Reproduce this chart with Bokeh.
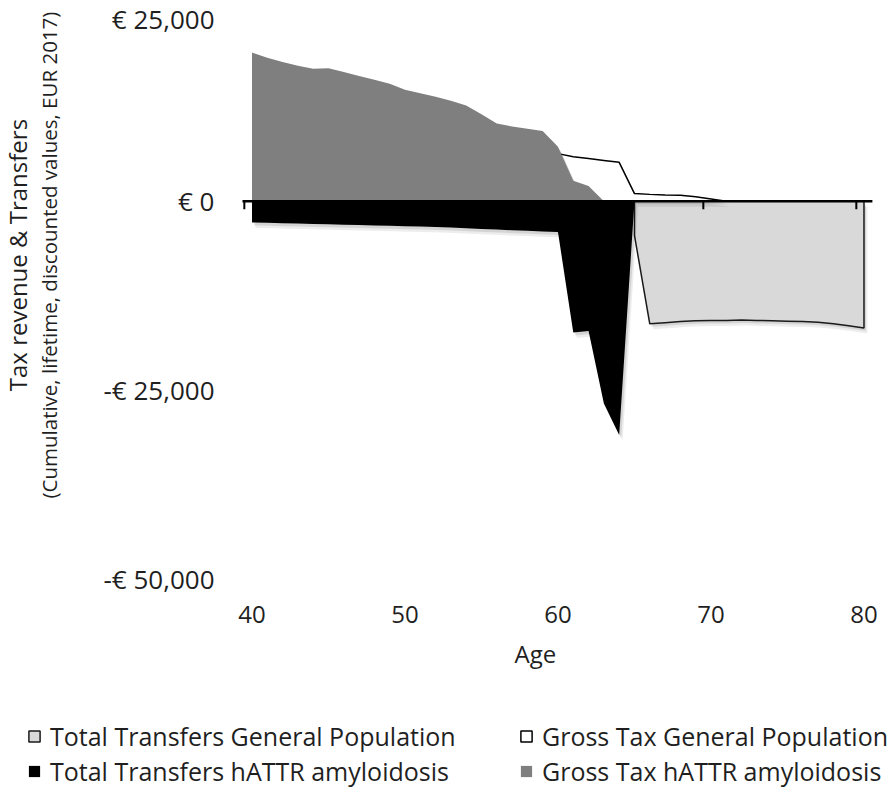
import math
from bokeh.plotting import figure
from bokeh.layouts import row, column
from bokeh.models import FixedTicker, Legend, LegendItem, LinearAxis, Title
from bokeh.core.properties import value
from bokeh.embed import file_html
from bokeh.resources import INLINE

# ---------------- data ----------------
ages_tax_hattr = list(range(40, 64))
gross_tax_hattr = [19700, 19000, 18450, 17950, 17550, 17600, 17100, 16600, 16100, 15550,
                   14750, 14300, 13850, 13300, 12680, 11530, 10300, 9900, 9600, 9300,
                   7200, 2700, 2000, 0]

ages_tr_hattr = list(range(40, 66))
transfers_hattr = [-2820, -2870, -2920, -2970, -3020, -3070, -3120, -3170, -3220, -3270,
                   -3320, -3370, -3430, -3500, -3590, -3680, -3760, -3850, -3930, -4020,
                   -4100, -17400, -17200, -26800, -31000, 0]

ages_tax_gp = list(range(60, 81))
gross_tax_gp = [6300, 5900, 5650, 5400, 5150, 1000, 900, 830, 770, 600,
                300, 0, 0, 0, 0, 0, 0, 0, 0, 0, 0]

ages_tr_gp = list(range(65, 81))
transfers_gp = [-4540, -16250, -16100, -15950, -15850, -15800, -15800, -15750,
                -15800, -15850, -15900, -15950, -16050, -16250, -16500, -16800]

series_labels = ["Total Transfers General Population", "Gross Tax General Population",
                 "Total Transfers hATTR amyloidosis", "Gross Tax hATTR amyloidosis"]
x_ticks = [40, 50, 60, 70, 80]
y_ticks = [-50000, -25000, 0, 25000]
y_tick_labels = ["-€ 50,000", "-€ 25,000", "€ 0", "€ 25,000"]
y_title_lines = ["Tax revenue & Transfers",
                 "(Cumulative, lifetime, discounted values, EUR 2017)"]
x_title = "Age"

FONT = "Open Sans"
FS = "24px"
TXT = "#1f1f1f"
C_TR_GP, C_TAX_GP, C_TR_H, C_TAX_H = "#d9d9d9", "#ffffff", "#000000", "#7f7f7f"

W, H = 896, 789
TOP_H = 700      # height of the chart row
LEFT_W = 76      # strip holding the rotated y title
FRAME_L, FRAME_T, FRAME_W, FRAME_H = 240, 12, 640, 566
X_RANGE = (39.25, 81.08)
Y_RANGE = (-50000, 25000)

# ---------------- main chart ----------------
p = figure(frame_width=FRAME_W, frame_height=FRAME_H,
           x_range=X_RANGE, y_range=Y_RANGE,
           output_backend="svg", toolbar_location=None,
           min_border_left=FRAME_L - LEFT_W, min_border_right=W - FRAME_L - FRAME_W,
           min_border_top=FRAME_T, min_border_bottom=TOP_H - FRAME_T - FRAME_H,
           x_axis_type=None, y_axis_type=None)
p.grid.visible = False
p.outline_line_color = None

# soft drop shadow offsets (in pixels -> data units)
px_x = (X_RANGE[1] - X_RANGE[0]) / FRAME_W
px_y = (Y_RANGE[1] - Y_RANGE[0]) / FRAME_H
SHADOWS = [(2 * px_x, -3 * px_y, 0.10), (3.5 * px_x, -5.5 * px_y, 0.07)]


def closed(xs, ys):
    return xs + xs[::-1], ys + [0] * len(xs)


def shadow(xs, ys):
    cx, cy = closed(xs, ys)
    for dx, dy, a in SHADOWS:
        p.patch([v + dx for v in cx], [v + dy for v in cy],
                fill_color="black", fill_alpha=a, line_color=None)


# series drawn in the original order, each with its shadow
shadow(ages_tr_gp, transfers_gp)
tx, ty = closed(ages_tr_gp, transfers_gp)
r_tr_gp = p.patch(tx, ty, fill_color=C_TR_GP, line_color="#1a1a1a", line_width=1.5)

shadow(ages_tax_gp, gross_tax_gp)
gx, gy = closed(ages_tax_gp, gross_tax_gp)
r_tax_gp = p.patch(gx, gy, fill_color=C_TAX_GP, line_color="#000000", line_width=1.5)

shadow(ages_tr_hattr, transfers_hattr)
r_tr_h = p.varea(x=ages_tr_hattr, y1=[0] * len(ages_tr_hattr), y2=transfers_hattr,
                 fill_color=C_TR_H)

shadow(ages_tax_hattr, gross_tax_hattr)
r_tax_h = p.varea(x=ages_tax_hattr, y1=[0] * len(ages_tax_hattr), y2=gross_tax_hattr,
                  fill_color=C_TAX_H)

# horizontal axis line crossing at zero, ticks between categories
tick_len = 8 * px_y
p.segment(x0=[x_ticks[0] - 0.62], y0=[0], x1=[x_ticks[-1] + 0.55], y1=[0],
          line_color="black", line_width=2.5)
p.segment(x0=[t - 0.5 for t in x_ticks], y0=[0] * len(x_ticks),
          x1=[t - 0.5 for t in x_ticks], y1=[-tick_len] * len(x_ticks),
          line_color="black", line_width=2)

xaxis = LinearAxis(ticker=FixedTicker(ticks=x_ticks))
xaxis.axis_line_color = None
xaxis.major_tick_line_color = None
xaxis.minor_tick_line_color = None
xaxis.major_label_standoff = 21
xaxis.major_label_text_font = FONT
xaxis.major_label_text_font_size = FS
xaxis.major_label_text_color = TXT
p.add_layout(xaxis, "below")

yaxis = LinearAxis(ticker=FixedTicker(ticks=y_ticks))
yaxis.major_label_overrides = dict(zip(y_ticks, y_tick_labels))
yaxis.axis_line_color = None
yaxis.major_tick_line_color = None
yaxis.minor_tick_line_color = None
yaxis.major_label_standoff = 20
yaxis.major_label_text_font = FONT
yaxis.major_label_text_font_size = "26px"
yaxis.major_label_text_color = TXT
p.add_layout(yaxis, "left")

p.add_layout(Title(text=x_title, align="left", offset=274, standoff=18,
                   text_font=FONT, text_font_size=FS, text_font_style="normal",
                   text_color=TXT), "below")

# ---------------- rotated y title strip ----------------
pl = figure(width=LEFT_W, height=TOP_H, x_range=(0, LEFT_W), y_range=(0, TOP_H),
            output_backend="svg", toolbar_location=None, min_border=0, title=None,
            x_axis_type=None, y_axis_type=None)
pl.grid.visible = False
pl.outline_line_color = None
pl.text(x=[17], y=[400], text=[y_title_lines[0]],
        angle=math.pi / 2, text_align="center", text_baseline="middle",
        text_font=value(FONT), text_font_size=value("24px"), text_color=TXT)
pl.text(x=[48], y=[400], text=[y_title_lines[1]],
        angle=math.pi / 2, text_align="center", text_baseline="middle",
        text_font=value(FONT), text_font_size=value("20.5px"), text_color=TXT)

# ---------------- legend strip ----------------
LEG_H = H - TOP_H
pg = figure(width=W, height=LEG_H, x_range=(0, W), y_range=(0, LEG_H),
            output_backend="svg", toolbar_location=None, min_border=0, title=None,
            x_axis_type=None, y_axis_type=None)
pg.grid.visible = False
pg.outline_line_color = None
# invisible stand-ins that carry the legend swatches (degenerate, off-canvas)
l_tr_gp = pg.patch([-20, -20], [-20, -20], fill_color=C_TR_GP, line_color="#1a1a1a",
                   line_width=1.5)
l_tax_gp = pg.patch([-20, -20], [-20, -20], fill_color=C_TAX_GP, line_color="#000000",
                    line_width=1.5)
l_tr_h = pg.varea(x=[-20, -20], y1=[-20, -20], y2=[-20, -20], fill_color=C_TR_H)
l_tax_h = pg.varea(x=[-20, -20], y1=[-20, -20], y2=[-20, -20], fill_color=C_TAX_H)

legend = Legend(items=[LegendItem(label=series_labels[0], renderers=[l_tr_gp]),
                       LegendItem(label=series_labels[1], renderers=[l_tax_gp]),
                       LegendItem(label=series_labels[2], renderers=[l_tr_h]),
                       LegendItem(label=series_labels[3], renderers=[l_tax_h])],
                location=(27, 1), orientation="horizontal", ncols=2)
legend.padding = 0
legend.margin = 0
legend.spacing = 1
legend.glyph_width = 14
legend.glyph_height = 14
legend.label_standoff = 9
legend.label_width = 468
legend.label_text_font = FONT
legend.label_text_font_size = "25px"
legend.label_text_color = TXT
legend.border_line_color = None
legend.background_fill_alpha = 0
pg.add_layout(legend)

layout = column(row(pl, p, spacing=0), pg, spacing=0)
open("out.html", "w").write(file_html(layout, INLINE))
